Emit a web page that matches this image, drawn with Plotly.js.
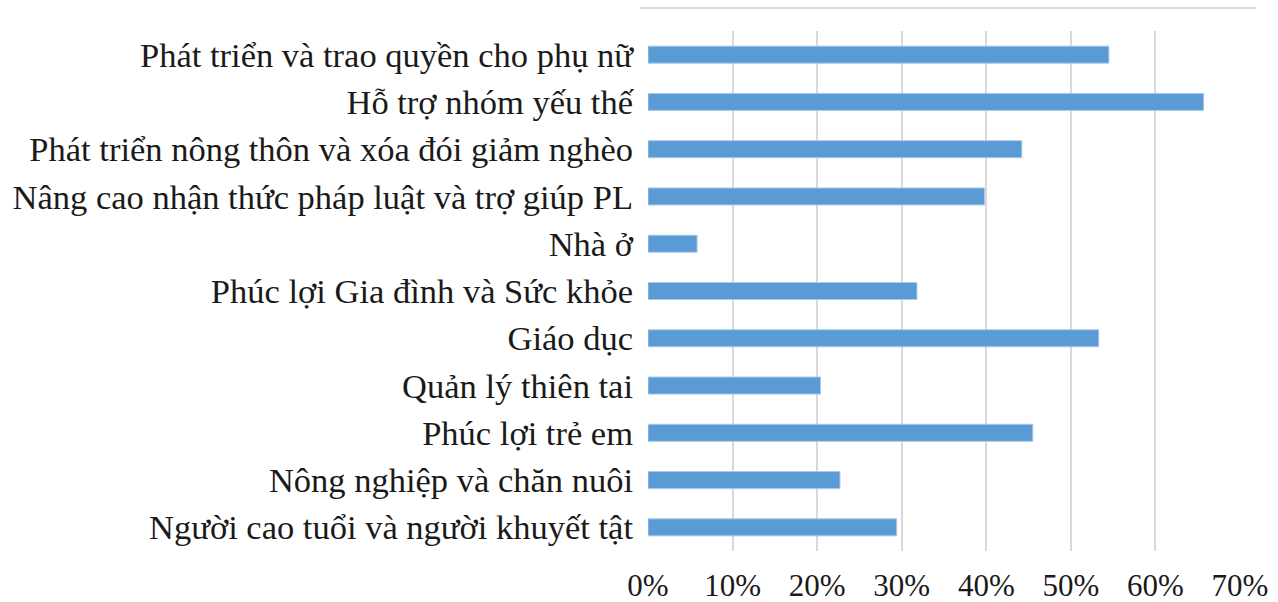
<!DOCTYPE html>
<html>
<head>
<meta charset="utf-8">
<script src="https://cdn.plot.ly/plotly-3.0.1.min.js"></script>
<style>
  html, body { margin: 0; padding: 0; background: #fff; }
  #chart { width: 1278px; height: 602px; }
</style>
</head>
<body>
<div id="chart"></div>
<script>
// categories, top to bottom as in the source figure
const categories = [
    "Phát triển và trao quyền cho phụ nữ",
    "Hỗ trợ nhóm yếu thế",
    "Phát triển nông thôn và xóa đói giảm nghèo",
    "Nâng cao nhận thức pháp luật và trợ giúp PL",
    "Nhà ở",
    "Phúc lợi Gia đình và Sức khỏe",
    "Giáo dục",
    "Quản lý thiên tai",
    "Phúc lợi trẻ em",
    "Nông nghiệp và chăn nuôi",
    "Người cao tuổi và người khuyết tật"
];

// share of organisations (fraction)
const shares = [0.545, 0.657, 0.442, 0.398, 0.058, 0.318, 0.533, 0.204, 0.455, 0.227, 0.294];

const tickVals = [0, 0.1, 0.2, 0.3, 0.4, 0.5, 0.6, 0.7];
const tickText = ["0%", "10%", "20%", "30%", "40%", "50%", "60%", "70%"];

const serif = "'Liberation Serif', 'Times New Roman', serif";

const trace = {
    type: "bar",
    orientation: "h",
    x: shares,
    y: categories,
    marker: { color: "#5b9bd5", line: { color: "#a9c9ea", width: 1 } },
    hoverinfo: "skip"
};

const layout = {
    width: 1278,
    height: 602,
    margin: { l: 648, r: 38, t: 31, b: 51 },
    paper_bgcolor: "#ffffff",
    plot_bgcolor: "#ffffff",
    showlegend: false,
    bargap: 0.64,
    font: { family: serif, color: "#1a1a1a", size: 30 },
    xaxis: {
        range: [0, 0.7],
        tickvals: tickVals,
        ticktext: tickText,
        showgrid: true,
        gridcolor: "#d9d9d9",
        gridwidth: 2,
        zeroline: false,
        showline: false,
        ticks: "",
        ticklabelstandoff: 13,
        tickfont: { family: serif, size: 31, color: "#1a1a1a" },
        fixedrange: true
    },
    yaxis: {
        type: "category",
        autorange: "reversed",
        showgrid: false,
        zeroline: false,
        showline: false,
        ticks: "",
        ticklabelstandoff: 14,
        tickfont: { family: serif, size: 34.5, color: "#1a1a1a" },
        fixedrange: true
    },
    shapes: [
        {
            type: "line", xref: "paper", yref: "paper",
            x0: -0.014, x1: 1.027, y0: 1.044, y1: 1.044,
            line: { color: "#d9d9d9", width: 2 }
        }
    ]
};

Plotly.newPlot("chart", [trace], layout, { staticPlot: true, displayModeBar: false });
</script>
</body>
</html>
